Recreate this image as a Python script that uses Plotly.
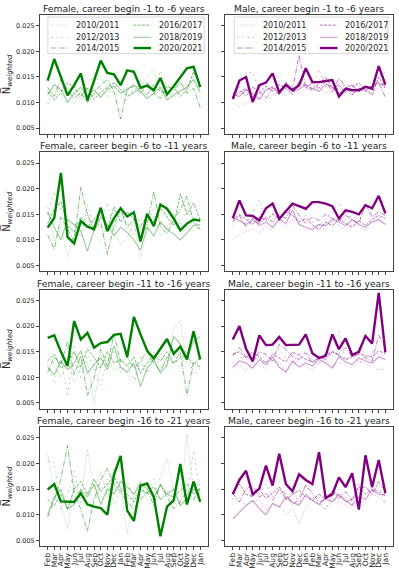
"""Mean weighted N per month, by career-begin cohort, female vs male."""
import plotly.graph_objects as go
from plotly.subplots import make_subplots

MONTHS = ["Feb", "Mar", "Apr", "May", "Jun", "Jul", "Aug", "Sep", "Oct", "Nov", "Dec", "Jan",
          "Feb", "Mar", "Apr", "May", "Jun", "Jul", "Aug", "Sep", "Oct", "Nov", "Dec", "Jan"]
SEASONS = ["2010/2011", "2012/2013", "2014/2015", "2016/2017", "2018/2019", "2020/2021"]
Y_TICKS = [0.005, 0.010, 0.015, 0.020, 0.025]

female_1_6 = {
    "2010/2011": [0.0118, 0.0122, 0.0130, 0.0105, 0.0098, 0.0115, 0.0125, 0.0140, 0.0152, 0.0128, 0.0118, 0.0112,
                  0.0105, 0.0122, 0.0135, 0.0150, 0.0166, 0.0125, 0.0110, 0.0118, 0.0140, 0.0128, 0.0135, 0.0120],
    "2012/2013": [0.0097, 0.0128, 0.0115, 0.0123, 0.0118, 0.0105, 0.0132, 0.0155, 0.0126, 0.0112, 0.0140, 0.0121,
                  0.0130, 0.0118, 0.0145, 0.0126, 0.0112, 0.0162, 0.0128, 0.0108, 0.0120, 0.0135, 0.0150, 0.0112],
    "2014/2015": [0.0130, 0.0112, 0.0145, 0.0125, 0.0108, 0.0120, 0.0100, 0.0118, 0.0135, 0.0145, 0.0122, 0.0068,
                  0.0125, 0.0132, 0.0118, 0.0140, 0.0120, 0.0108, 0.0132, 0.0125, 0.0140, 0.0118, 0.0128, 0.0090],
    "2016/2017": [0.0122, 0.0105, 0.0120, 0.0138, 0.0130, 0.0112, 0.0128, 0.0106, 0.0120, 0.0130, 0.0138, 0.0126,
                  0.0112, 0.0120, 0.0128, 0.0115, 0.0135, 0.0122, 0.0118, 0.0130, 0.0112, 0.0125, 0.0160, 0.0135],
    "2018/2019": [0.0115, 0.0135, 0.0125, 0.0100, 0.0118, 0.0130, 0.0112, 0.0125, 0.0110, 0.0126, 0.0132, 0.0118,
                  0.0126, 0.0135, 0.0122, 0.0108, 0.0118, 0.0130, 0.0105, 0.0115, 0.0123, 0.0130, 0.0145, 0.0122],
    "2020/2021": [0.0143, 0.0185, 0.0150, 0.0114, 0.0134, 0.0157, 0.0104, 0.0145, 0.0182, 0.0158, 0.0155, 0.0134,
                  0.0163, 0.0160, 0.0129, 0.0133, 0.0124, 0.0148, 0.0116, 0.0132, 0.0150, 0.0167, 0.0170, 0.0130],
}
male_1_6 = {
    "2010/2011": [0.0100, 0.0092, 0.0098, 0.0104, 0.0110, 0.0102, 0.0115, 0.0120, 0.0112, 0.0125, 0.0118, 0.0128,
                  0.0122, 0.0130, 0.0118, 0.0125, 0.0132, 0.0120, 0.0115, 0.0128, 0.0122, 0.0118, 0.0130, 0.0140],
    "2012/2013": [0.0112, 0.0130, 0.0160, 0.0158, 0.0125, 0.0118, 0.0132, 0.0142, 0.0120, 0.0135, 0.0128, 0.0140,
                  0.0125, 0.0165, 0.0130, 0.0145, 0.0122, 0.0138, 0.0118, 0.0132, 0.0126, 0.0120, 0.0148, 0.0160],
    "2014/2015": [0.0118, 0.0125, 0.0112, 0.0130, 0.0122, 0.0108, 0.0128, 0.0115, 0.0140, 0.0126, 0.0192, 0.0130,
                  0.0138, 0.0128, 0.0142, 0.0120, 0.0148, 0.0132, 0.0115, 0.0128, 0.0122, 0.0135, 0.0140, 0.0110],
    "2016/2017": [0.0108, 0.0120, 0.0128, 0.0112, 0.0118, 0.0132, 0.0122, 0.0135, 0.0128, 0.0115, 0.0142, 0.0130,
                  0.0125, 0.0138, 0.0150, 0.0128, 0.0135, 0.0120, 0.0130, 0.0138, 0.0125, 0.0115, 0.0150, 0.0128],
    "2018/2019": [0.0115, 0.0112, 0.0125, 0.0118, 0.0106, 0.0125, 0.0130, 0.0118, 0.0132, 0.0122, 0.0126, 0.0135,
                  0.0128, 0.0122, 0.0136, 0.0130, 0.0118, 0.0128, 0.0135, 0.0122, 0.0128, 0.0132, 0.0138, 0.0132],
    "2020/2021": [0.0107, 0.0143, 0.0150, 0.0101, 0.0134, 0.0139, 0.0157, 0.0120, 0.0135, 0.0124, 0.0134, 0.0167,
                  0.0140, 0.0140, 0.0142, 0.0144, 0.0112, 0.0127, 0.0124, 0.0124, 0.0131, 0.0127, 0.0171, 0.0135],
}
female_6_11 = {
    "2010/2011": [0.0165, 0.0098, 0.0125, 0.0068, 0.0110, 0.0128, 0.0150, 0.0112, 0.0095, 0.0132, 0.0118, 0.0090,
                  0.0105, 0.0135, 0.0065, 0.0118, 0.0150, 0.0108, 0.0125, 0.0138, 0.0112, 0.0122, 0.0118, 0.0125],
    "2012/2013": [0.0150, 0.0195, 0.0160, 0.0118, 0.0135, 0.0105, 0.0168, 0.0125, 0.0140, 0.0172, 0.0118, 0.0150,
                  0.0132, 0.0110, 0.0145, 0.0128, 0.0160, 0.0138, 0.0120, 0.0150, 0.0132, 0.0158, 0.0140, 0.0115],
    "2014/2015": [0.0110, 0.0082, 0.0145, 0.0120, 0.0098, 0.0203, 0.0150, 0.0118, 0.0135, 0.0072, 0.0128, 0.0160,
                  0.0125, 0.0142, 0.0105, 0.0130, 0.0195, 0.0125, 0.0112, 0.0140, 0.0160, 0.0185, 0.0135, 0.0120],
    "2016/2017": [0.0132, 0.0160, 0.0175, 0.0128, 0.0115, 0.0145, 0.0125, 0.0140, 0.0158, 0.0120, 0.0165, 0.0135,
                  0.0155, 0.0140, 0.0125, 0.0150, 0.0135, 0.0162, 0.0145, 0.0128, 0.0190, 0.0150, 0.0172, 0.0140],
    "2018/2019": [0.0155, 0.0125, 0.0100, 0.0140, 0.0130, 0.0118, 0.0078, 0.0120, 0.0145, 0.0130, 0.0108, 0.0125,
                  0.0115, 0.0100, 0.0080, 0.0125, 0.0108, 0.0135, 0.0120, 0.0112, 0.0100, 0.0115, 0.0128, 0.0130],
    "2020/2021": [0.0124, 0.0143, 0.0231, 0.0106, 0.0093, 0.0137, 0.0126, 0.0121, 0.0163, 0.0117, 0.0142, 0.0162,
                  0.0146, 0.0154, 0.0097, 0.0151, 0.0127, 0.0169, 0.0161, 0.0142, 0.0119, 0.0132, 0.0140, 0.0138],
}
male_6_11 = {
    "2010/2011": [0.0102, 0.0110, 0.0116, 0.0122, 0.0112, 0.0128, 0.0120, 0.0135, 0.0125, 0.0140, 0.0132, 0.0118,
                  0.0125, 0.0130, 0.0122, 0.0135, 0.0128, 0.0120, 0.0132, 0.0126, 0.0118, 0.0130, 0.0138, 0.0132],
    "2012/2013": [0.0128, 0.0140, 0.0132, 0.0155, 0.0178, 0.0140, 0.0152, 0.0145, 0.0160, 0.0150, 0.0138, 0.0148,
                  0.0135, 0.0128, 0.0142, 0.0155, 0.0175, 0.0140, 0.0148, 0.0135, 0.0165, 0.0150, 0.0142, 0.0160],
    "2014/2015": [0.0135, 0.0148, 0.0125, 0.0138, 0.0132, 0.0145, 0.0135, 0.0150, 0.0142, 0.0168, 0.0148, 0.0132,
                  0.0145, 0.0138, 0.0150, 0.0142, 0.0138, 0.0148, 0.0140, 0.0132, 0.0170, 0.0145, 0.0155, 0.0148],
    "2016/2017": [0.0138, 0.0150, 0.0140, 0.0130, 0.0145, 0.0138, 0.0150, 0.0142, 0.0155, 0.0148, 0.0135, 0.0142,
                  0.0130, 0.0120, 0.0135, 0.0128, 0.0140, 0.0132, 0.0125, 0.0138, 0.0128, 0.0140, 0.0148, 0.0142],
    "2018/2019": [0.0145, 0.0138, 0.0130, 0.0142, 0.0128, 0.0135, 0.0125, 0.0140, 0.0132, 0.0158, 0.0130, 0.0125,
                  0.0120, 0.0130, 0.0128, 0.0140, 0.0135, 0.0128, 0.0140, 0.0130, 0.0125, 0.0135, 0.0140, 0.0130],
    "2020/2021": [0.0142, 0.0177, 0.0148, 0.0147, 0.0138, 0.0162, 0.0171, 0.0141, 0.0156, 0.0171, 0.0166, 0.0161,
                  0.0174, 0.0174, 0.0171, 0.0166, 0.0142, 0.0158, 0.0155, 0.0150, 0.0168, 0.0162, 0.0186, 0.0152],
}
female_11_16 = {
    "2010/2011": [0.0150, 0.0122, 0.0100, 0.0138, 0.0090, 0.0118, 0.0130, 0.0050, 0.0125, 0.0140, 0.0112, 0.0120,
                  0.0105, 0.0088, 0.0130, 0.0110, 0.0125, 0.0148, 0.0118, 0.0195, 0.0212, 0.0130, 0.0112, 0.0125],
    "2012/2013": [0.0125, 0.0088, 0.0140, 0.0063, 0.0160, 0.0100, 0.0145, 0.0120, 0.0085, 0.0132, 0.0150, 0.0110,
                  0.0128, 0.0095, 0.0140, 0.0108, 0.0150, 0.0120, 0.0132, 0.0145, 0.0118, 0.0150, 0.0105, 0.0118],
    "2014/2015": [0.0110, 0.0140, 0.0125, 0.0170, 0.0105, 0.0142, 0.0065, 0.0098, 0.0155, 0.0122, 0.0185, 0.0130,
                  0.0140, 0.0118, 0.0132, 0.0150, 0.0128, 0.0112, 0.0140, 0.0128, 0.0150, 0.0065, 0.0130, 0.0120],
    "2016/2017": [0.0132, 0.0145, 0.0118, 0.0128, 0.0150, 0.0120, 0.0155, 0.0140, 0.0118, 0.0150, 0.0128, 0.0135,
                  0.0122, 0.0140, 0.0108, 0.0128, 0.0145, 0.0132, 0.0150, 0.0128, 0.0138, 0.0142, 0.0125, 0.0138],
    "2018/2019": [0.0120, 0.0105, 0.0132, 0.0115, 0.0128, 0.0152, 0.0108, 0.0125, 0.0138, 0.0115, 0.0162, 0.0120,
                  0.0110, 0.0128, 0.0082, 0.0118, 0.0135, 0.0108, 0.0125, 0.0180, 0.0165, 0.0140, 0.0170, 0.0180],
    "2020/2021": [0.0177, 0.0182, 0.0150, 0.0122, 0.0210, 0.0174, 0.0187, 0.0158, 0.0167, 0.0169, 0.0183, 0.0185,
                  0.0140, 0.0218, 0.0184, 0.0152, 0.0137, 0.0156, 0.0175, 0.0146, 0.0160, 0.0135, 0.0190, 0.0135],
}
male_11_16 = {
    "2010/2011": [0.0118, 0.0125, 0.0112, 0.0130, 0.0122, 0.0118, 0.0135, 0.0128, 0.0112, 0.0125, 0.0132, 0.0120,
                  0.0115, 0.0128, 0.0135, 0.0122, 0.0130, 0.0125, 0.0118, 0.0132, 0.0126, 0.0120, 0.0115, 0.0115],
    "2012/2013": [0.0128, 0.0140, 0.0135, 0.0148, 0.0125, 0.0132, 0.0142, 0.0155, 0.0138, 0.0128, 0.0145, 0.0150,
                  0.0135, 0.0125, 0.0148, 0.0140, 0.0190, 0.0132, 0.0145, 0.0128, 0.0135, 0.0150, 0.0145, 0.0142],
    "2014/2015": [0.0142, 0.0158, 0.0140, 0.0132, 0.0150, 0.0145, 0.0132, 0.0165, 0.0155, 0.0140, 0.0135, 0.0148,
                  0.0128, 0.0140, 0.0135, 0.0150, 0.0145, 0.0158, 0.0140, 0.0145, 0.0138, 0.0132, 0.0182, 0.0158],
    "2016/2017": [0.0145, 0.0150, 0.0138, 0.0150, 0.0140, 0.0128, 0.0145, 0.0138, 0.0130, 0.0150, 0.0142, 0.0135,
                  0.0130, 0.0138, 0.0145, 0.0150, 0.0142, 0.0135, 0.0140, 0.0148, 0.0142, 0.0140, 0.0152, 0.0146],
    "2018/2019": [0.0120, 0.0132, 0.0128, 0.0118, 0.0135, 0.0125, 0.0140, 0.0120, 0.0110, 0.0132, 0.0120, 0.0128,
                  0.0122, 0.0135, 0.0128, 0.0118, 0.0140, 0.0130, 0.0125, 0.0138, 0.0132, 0.0128, 0.0140, 0.0135],
    "2020/2021": [0.0174, 0.0200, 0.0156, 0.0131, 0.0182, 0.0163, 0.0164, 0.0179, 0.0163, 0.0163, 0.0164, 0.0184,
                  0.0147, 0.0138, 0.0142, 0.0184, 0.0155, 0.0176, 0.0144, 0.0150, 0.0181, 0.0166, 0.0265, 0.0149],
}
female_16_21 = {
    "2010/2011": [0.0220, 0.0145, 0.0120, 0.0072, 0.0160, 0.0130, 0.0228, 0.0150, 0.0185, 0.0135, 0.0190, 0.0155,
                  0.0063, 0.0140, 0.0165, 0.0128, 0.0115, 0.0175, 0.0210, 0.0150, 0.0120, 0.0258, 0.0145, 0.0170],
    "2012/2013": [0.0205, 0.0202, 0.0110, 0.0140, 0.0185, 0.0120, 0.0145, 0.0128, 0.0150, 0.0170, 0.0118, 0.0148,
                  0.0165, 0.0130, 0.0155, 0.0140, 0.0170, 0.0128, 0.0148, 0.0120, 0.0160, 0.0135, 0.0225, 0.0140],
    "2014/2015": [0.0095, 0.0128, 0.0170, 0.0235, 0.0145, 0.0110, 0.0068, 0.0130, 0.0168, 0.0190, 0.0160, 0.0145,
                  0.0125, 0.0112, 0.0130, 0.0145, 0.0120, 0.0160, 0.0135, 0.0112, 0.0125, 0.0148, 0.0130, 0.0155],
    "2016/2017": [0.0130, 0.0118, 0.0140, 0.0110, 0.0150, 0.0165, 0.0140, 0.0170, 0.0145, 0.0160, 0.0175, 0.0150,
                  0.0140, 0.0125, 0.0150, 0.0142, 0.0155, 0.0130, 0.0140, 0.0135, 0.0148, 0.0160, 0.0140, 0.0150],
    "2018/2019": [0.0100, 0.0135, 0.0150, 0.0112, 0.0120, 0.0150, 0.0135, 0.0160, 0.0120, 0.0150, 0.0140, 0.0165,
                  0.0155, 0.0140, 0.0162, 0.0150, 0.0132, 0.0158, 0.0140, 0.0150, 0.0118, 0.0132, 0.0150, 0.0140],
    "2020/2021": [0.0149, 0.0160, 0.0126, 0.0126, 0.0125, 0.0142, 0.0120, 0.0116, 0.0113, 0.0100, 0.0178, 0.0215,
                  0.0108, 0.0088, 0.0157, 0.0161, 0.0135, 0.0058, 0.0116, 0.0128, 0.0199, 0.0120, 0.0165, 0.0125],
}
male_16_21 = {
    "2010/2011": [0.0120, 0.0135, 0.0118, 0.0125, 0.0130, 0.0108, 0.0122, 0.0118, 0.0100, 0.0112, 0.0082, 0.0115,
                  0.0128, 0.0120, 0.0110, 0.0132, 0.0125, 0.0118, 0.0112, 0.0128, 0.0125, 0.0140, 0.0135, 0.0122],
    "2012/2013": [0.0130, 0.0175, 0.0182, 0.0150, 0.0140, 0.0160, 0.0135, 0.0145, 0.0128, 0.0150, 0.0120, 0.0158,
                  0.0135, 0.0125, 0.0110, 0.0140, 0.0150, 0.0132, 0.0120, 0.0160, 0.0152, 0.0148, 0.0160, 0.0120],
    "2014/2015": [0.0142, 0.0125, 0.0150, 0.0158, 0.0135, 0.0142, 0.0128, 0.0150, 0.0140, 0.0120, 0.0130, 0.0158,
                  0.0142, 0.0125, 0.0130, 0.0148, 0.0132, 0.0145, 0.0128, 0.0150, 0.0155, 0.0140, 0.0165, 0.0145],
    "2016/2017": [0.0145, 0.0160, 0.0140, 0.0135, 0.0150, 0.0132, 0.0142, 0.0155, 0.0130, 0.0140, 0.0148, 0.0135,
                  0.0128, 0.0140, 0.0132, 0.0145, 0.0138, 0.0125, 0.0130, 0.0155, 0.0140, 0.0150, 0.0145, 0.0138],
    "2018/2019": [0.0092, 0.0105, 0.0118, 0.0128, 0.0112, 0.0100, 0.0122, 0.0115, 0.0135, 0.0125, 0.0118, 0.0140,
                  0.0128, 0.0120, 0.0132, 0.0125, 0.0140, 0.0128, 0.0118, 0.0135, 0.0130, 0.0148, 0.0140, 0.0138],
    "2020/2021": [0.0140, 0.0168, 0.0186, 0.0140, 0.0151, 0.0196, 0.0157, 0.0219, 0.0160, 0.0146, 0.0179, 0.0168,
                  0.0160, 0.0222, 0.0133, 0.0140, 0.0173, 0.0154, 0.0181, 0.0110, 0.0216, 0.0154, 0.0207, 0.0142],
}

TITLES = ["Female, career begin -1 to -6 years", "Male, career begin -1 to -6 years",
          "Female, career begin -6 to -11 years", "Male, career begin -6 to -11 years",
          "Female, career begin -11 to -16 years", "Male, career begin -11 to -16 years",
          "Female, career begin -16 to -21 years", "Male, career begin -16 to -21 years"]
PANELS = [female_1_6, male_1_6, female_6_11, male_6_11,
          female_11_16, male_11_16, female_16_21, male_16_21]

FONT = "DejaVu Sans"
INK = "#262626"
BASE = {"F": (0, 128, 0), "M": (128, 0, 128)}
# season -> (dash, width, alpha)
STYLE = {
    "2010/2011": ("1px,1.5px", 1.0, 0.30),
    "2012/2013": ("1.5px,4px,1px,4px", 1.0, 0.40),
    "2014/2015": ("5px,1.5px,1px,1.5px", 1.0, 0.50),
    "2016/2017": ("3px,1.3px", 1.0, 0.55),
    "2018/2019": ("solid", 1.1, 0.40),
    "2020/2021": ("solid", 2.4, 1.0),
}


def colour(sex, alpha):
    r, g, b = BASE[sex]
    return f"rgba({r},{g},{b},{alpha})"


fig = make_subplots(rows=4, cols=2, subplot_titles=TITLES,
                    horizontal_spacing=0.049, vertical_spacing=0.035)
x = list(range(len(MONTHS)))

for i, panel in enumerate(PANELS):
    row, col = i // 2 + 1, i % 2 + 1
    sex = "F" if col == 1 else "M"
    for season in SEASONS:
        dash, width, alpha = STYLE[season]
        fig.add_trace(go.Scatter(x=x, y=panel[season], mode="lines", name=season,
                                 line=dict(color=colour(sex, alpha), width=width, dash=dash),
                                 showlegend=False), row=row, col=col)

fig.update_annotations(font=dict(family=FONT, size=9.2, color=INK), yshift=-1)

# legend boxes (matplotlib style, two columns) in the top panels
for col, sex in [(1, "F"), (2, "M")]:
    xr = "x domain" if col == 1 else "x2 domain"
    yr = "y domain" if col == 1 else "y2 domain"
    x0 = 0.047 if col == 1 else 0.054
    x1 = 0.978 if col == 1 else 0.970
    fig.add_shape(type="rect", xref=xr, yref=yr, x0=x0, x1=x1, y0=0.675, y1=0.983,
                  fillcolor="rgba(255,255,255,0.8)", line=dict(color="#cccccc", width=0.8))
    for k, season in enumerate(SEASONS):
        dash, width, alpha = STYLE[season]
        cx = x0 + 0.018 if k < 3 else x0 + 0.51
        cy = [0.915, 0.812, 0.722][k % 3]
        fig.add_shape(type="line", xref=xr, yref=yr, x0=cx, x1=cx + 0.105, y0=cy, y1=cy,
                      line=dict(color=colour(sex, alpha), width=width, dash=dash))
        fig.add_annotation(xref=xr, yref=yr, x=cx + 0.14, y=cy, text=season, showarrow=False,
                           xanchor="left", yanchor="middle",
                           font=dict(family=FONT, size=8, color=INK))

axis_common = dict(showline=True, mirror=True, linecolor="#444444", linewidth=1,
                   ticks="outside", ticklen=3, tickwidth=0.8, tickcolor="#444444",
                   showgrid=False, zeroline=False)
fig.update_xaxes(**axis_common, range=[-1.15, len(MONTHS) - 1 + 1.15],
                 tickvals=x, ticktext=MONTHS, showticklabels=False)
fig.update_xaxes(showticklabels=True, tickangle=-90,
                 tickfont=dict(family=FONT, size=7.6, color=INK), row=4)
fig.update_yaxes(**axis_common, range=[0.0039, 0.0271], tickvals=Y_TICKS,
                 ticktext=[f"{v:.3f}" for v in Y_TICKS], showticklabels=False)
fig.update_yaxes(showticklabels=True, tickfont=dict(family=FONT, size=6.5, color=INK),
                 title=dict(text="N\u0305<sub><i>weighted</i></sub>", standoff=4,
                            font=dict(family=FONT, size=10, color=INK)),
                 col=1)

fig.update_layout(width=399, height=574, margin=dict(l=39, r=5, t=15, b=26),
                  plot_bgcolor="white", paper_bgcolor="white",
                  font=dict(family=FONT, color=INK), showlegend=False)
# page body margin would push the fixed-size figure off the 399x574 window
fig.write_html("out.html", config={"displayModeBar": False},
               post_script="document.body.style.margin='0px';")
